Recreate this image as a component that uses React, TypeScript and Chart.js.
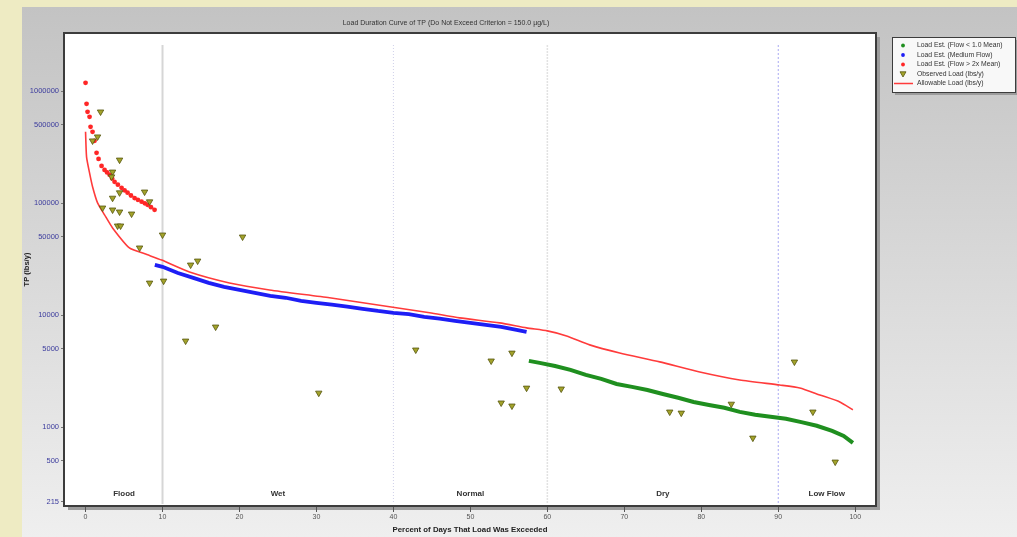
import React, { useEffect, useRef } from 'react';
import { Chart, registerables } from 'chart.js';

Chart.register(...registerables);

// ---------- text ----------
const CHART_TITLE = 'Load Duration Curve of TP (Do Not Exceed Criterion = 150.0 µg/L)';
const X_TITLE = 'Percent of Days That Load Was Exceeded';
const Y_TITLE = 'TP (lbs/y)';
const LEGEND_LABELS = [
  'Load Est. (Flow < 1.0 Mean)',
  'Load Est. (Medium Flow)',
  'Load Est. (Flow > 2x Mean)',
  'Observed Load (lbs/y)',
  'Allowable Load (lbs/y)',
];

// ---------- axes ----------
const X_TICKS = [0, 10, 20, 30, 40, 50, 60, 70, 80, 90, 100];
const Y_TICKS = [215, 500, 1000, 5000, 10000, 50000, 100000, 500000, 1000000];
const X_MIN = -2.8;
const X_MAX = 102.7;
const Y_MIN = 198;
const Y_MAX = 3300000;

// ---------- flow zones ----------
const ZONE_NAMES = ['Flood', 'Wet', 'Normal', 'Dry', 'Low Flow'];
const ZONE_NAME_AT = [5, 25, 50, 75, 96.3];
const ZONE_BREAKS = [10, 40, 60, 90];

// ---------- series ----------
const allowPct = [0, 0.13, 0.52, 0.91, 1.56, 2.47, 3.51, 5.7, 7.7, 9.9, 13.5, 18.7, 23.9, 31.7, 39.5, 44.7, 48.6, 53.8, 57.3, 60, 62.5, 65.5, 69.4, 74.6, 79.8, 85, 90.2, 92.8, 95.4, 98, 99.7];
const allowLoad = [433000, 259000, 186000, 140000, 100500, 78600, 60100, 39900, 35300, 31000, 24300, 19400, 16800, 14300, 11900, 10500, 9460, 8530, 7700, 7240, 6530, 5430, 4600, 3830, 3110, 2640, 2380, 2240, 1940, 1680, 1430];

const highPct = [0, 0.13, 0.26, 0.52, 0.65, 0.91, 1.17, 1.43, 1.69, 2.08, 2.47, 2.8, 3.12, 3.45, 3.77, 4.2, 4.68, 5.07, 5.46, 5.9, 6.37, 6.8, 7.28, 7.7, 8.06, 8.5, 8.97];
const highLoad = [1186000, 769000, 653000, 589000, 480000, 433000, 360000, 281000, 248000, 215000, 198000, 188000, 179000, 166000, 155000, 146000, 137000, 130000, 124000, 117000, 111000, 107000, 103000, 99500, 96500, 92000, 87100];

const medPct = [9, 10, 12, 14, 16, 18, 20, 22, 24, 26, 28, 30, 32, 34, 36, 38, 40, 42, 44, 46, 48, 50, 52, 54, 56, 57.3];
const medLoad = [28100, 27000, 23800, 21500, 19400, 17900, 16800, 15800, 14900, 14300, 13400, 12900, 12400, 11900, 11400, 10900, 10500, 10200, 9650, 9300, 8890, 8530, 8190, 7860, 7390, 7090];

const lowPct = [57.6, 59, 61, 63, 65, 67, 69, 71, 73, 75, 77, 79, 81, 83, 85, 87, 89, 91, 93, 95, 97, 98.5, 99.7];
const lowLoad = [3910, 3750, 3520, 3250, 2930, 2700, 2430, 2290, 2150, 1980, 1830, 1680, 1580, 1490, 1370, 1290, 1240, 1190, 1110, 1030, 926, 836, 724];

const obsPct = [1.95, 1.56, 0.91, 4.42, 3.51, 3.38, 4.42, 7.67, 8.32, 3.51, 2.21, 3.51, 4.42, 5.98, 4.16, 4.55, 7.02, 10.0, 20.4, 13.65, 14.56, 8.32, 10.14, 16.9, 13.0, 30.3, 42.9, 52.7, 55.4, 57.3, 54.0, 55.4, 61.8, 75.9, 77.4, 83.9, 86.7, 92.1, 94.5, 97.4];
const obsLoad = [653000, 391000, 360000, 243000, 190000, 172000, 124000, 126000, 103000, 111000, 90700, 87100, 83600, 80200, 62700, 62700, 39900, 52100, 50000, 28100, 30500, 19400, 20200, 7860, 5890, 2020, 4900, 3910, 4600, 2240, 1650, 1550, 2200, 1370, 1340, 1610, 802, 3830, 1370, 490];

// ---------- styles ----------
const FONT = 'Arial, "Liberation Sans", sans-serif';
const C_GREEN = '#1f8f1f';
const C_BLUE = '#1e1ef5';
const C_RED = '#ff2626';
const C_LINE = '#ff3b3b';
const C_OBS = '#a3a32a';
const C_OBS_EDGE = '#55550f';
const BREAK_STYLES = [
  { color: '#d6d6d6', width: 2, dash: [] as number[] },
  { color: '#cfd0ea', width: 1, dash: [1, 2] },
  { color: '#e2e2e2', width: 1.5, dash: [2, 1] },
  { color: '#a9a9f2', width: 1, dash: [2, 2] },
];

const xy = (xs: number[], ys: number[]) => xs.map((x, i) => ({ x, y: ys[i] }));

const decorPlugin = {
  id: 'decor',
  beforeDraw(chart: any) {
    const { ctx, width, height, chartArea: a } = chart;
    ctx.save();
    ctx.fillStyle = '#eeebc3';
    ctx.fillRect(0, 0, width, height);
    const g = ctx.createLinearGradient(0, 7, 0, height);
    g.addColorStop(0, '#c3c3c3');
    g.addColorStop(1, '#efefef');
    ctx.fillStyle = g;
    ctx.fillRect(22, 7, width - 22, height - 7);
    ctx.fillStyle = '#9c9c9c';
    ctx.fillRect(a.left + 4, a.top + 4, a.right - a.left, a.bottom - a.top);
    ctx.fillStyle = '#ffffff';
    ctx.fillRect(a.left, a.top, a.right - a.left, a.bottom - a.top);
    ctx.restore();
  },
  beforeDatasetsDraw(chart: any) {
    const { ctx, scales, chartArea: a } = chart;
    ctx.save();
    ZONE_BREAKS.forEach((b, i) => {
      const s = BREAK_STYLES[i];
      const x = scales.x.getPixelForValue(b);
      ctx.strokeStyle = s.color;
      ctx.lineWidth = s.width;
      ctx.setLineDash(s.dash);
      ctx.beginPath();
      ctx.moveTo(x, a.top + 12);
      ctx.lineTo(x, a.bottom - 2);
      ctx.stroke();
    });
    ctx.setLineDash([]);
    ctx.fillStyle = '#333';
    ctx.font = `bold 8px ${FONT}`;
    ctx.textAlign = 'center';
    ctx.textBaseline = 'middle';
    ZONE_NAMES.forEach((n, i) => {
      ctx.fillText(n, scales.x.getPixelForValue(ZONE_NAME_AT[i]), a.bottom - 12);
    });
    ctx.restore();
  },
  afterDraw(chart: any) {
    const { ctx, chartArea: a } = chart;
    ctx.save();
    ctx.strokeStyle = '#3c3c3c';
    ctx.lineWidth = 2;
    ctx.strokeRect(a.left, a.top, a.right - a.left, a.bottom - a.top);
    ctx.fillStyle = '#333';
    ctx.font = `7px ${FONT}`;
    ctx.textAlign = 'center';
    ctx.textBaseline = 'middle';
    ctx.fillText(CHART_TITLE, 446, 23);
    const lx = 892, ly = 37, lw = 123, lh = 55;
    ctx.fillStyle = '#9c9c9c';
    ctx.fillRect(lx + 3, ly + 3, lw, lh);
    ctx.fillStyle = '#f8f8f8';
    ctx.fillRect(lx, ly, lw, lh);
    ctx.strokeStyle = '#3c3c3c';
    ctx.lineWidth = 1;
    ctx.strokeRect(lx + 0.5, ly + 0.5, lw, lh);
    const rows = [45.5, 55, 64.5, 74, 83.5];
    const sx = 903;
    ctx.textAlign = 'left';
    ctx.font = `6.8px ${FONT}`;
    LEGEND_LABELS.forEach((t, i) => {
      const y = rows[i];
      if (i < 3) {
        ctx.fillStyle = [C_GREEN, C_BLUE, C_RED][i];
        ctx.beginPath();
        ctx.arc(sx, y, 1.9, 0, Math.PI * 2);
        ctx.fill();
      } else if (i === 3) {
        ctx.fillStyle = C_OBS;
        ctx.strokeStyle = C_OBS_EDGE;
        ctx.lineWidth = 0.8;
        ctx.beginPath();
        ctx.moveTo(sx - 3, y - 2.2);
        ctx.lineTo(sx + 3, y - 2.2);
        ctx.lineTo(sx, y + 3);
        ctx.closePath();
        ctx.fill();
        ctx.stroke();
      } else {
        ctx.strokeStyle = C_LINE;
        ctx.lineWidth = 1.5;
        ctx.beginPath();
        ctx.moveTo(894, y);
        ctx.lineTo(913, y);
        ctx.stroke();
      }
      ctx.fillStyle = '#333';
      ctx.fillText(t, 917, y);
    });
    ctx.restore();
  },
};

export default function App() {
  const ref = useRef<HTMLCanvasElement | null>(null);

  useEffect(() => {
    if (!ref.current) return;
    const chart = new Chart(ref.current, {
      type: 'scatter',
      data: {
        datasets: [
          {
            label: LEGEND_LABELS[3],
            data: xy(obsPct, obsLoad),
            pointStyle: 'triangle',
            rotation: 180,
            pointRadius: 3.7,
            backgroundColor: C_OBS,
            borderColor: C_OBS_EDGE,
            borderWidth: 0.8,
            order: 0,
          },
          {
            label: LEGEND_LABELS[4],
            data: xy(allowPct, allowLoad),
            showLine: true,
            borderColor: C_LINE,
            borderWidth: 1.6,
            pointRadius: 0,
            tension: 0.2,
            order: 1,
          },
          {
            label: LEGEND_LABELS[2],
            data: xy(highPct, highLoad),
            pointRadius: 2.4,
            backgroundColor: C_RED,
            borderWidth: 0,
            order: 2,
          },
          {
            label: LEGEND_LABELS[1],
            data: xy(medPct, medLoad),
            showLine: true,
            borderColor: C_BLUE,
            borderWidth: 3.8,
            pointRadius: 0,
            order: 2,
          },
          {
            label: LEGEND_LABELS[0],
            data: xy(lowPct, lowLoad),
            showLine: true,
            borderColor: C_GREEN,
            borderWidth: 4,
            pointRadius: 0,
            order: 2,
          },
        ],
      },
      options: {
        responsive: false,
        maintainAspectRatio: false,
        animation: false,
        layout: { padding: { top: 33, right: 141, left: 0, bottom: 0 } },
        plugins: { legend: { display: false }, tooltip: { enabled: false }, title: { display: false } },
        scales: {
          x: {
            type: 'linear',
            min: X_MIN,
            max: X_MAX,
            afterBuildTicks: (s: any) => {
              s.ticks = X_TICKS.map((v) => ({ value: v }));
            },
            afterFit: (s: any) => {
              s.height = 31;
            },
            grid: { drawOnChartArea: false, drawTicks: true, tickLength: 6, color: '#555' },
            border: { display: false },
            ticks: {
              autoSkip: false,
              maxRotation: 0,
              padding: 1,
              color: '#555',
              font: { family: FONT, size: 7 },
              callback: (v: any) => String(v),
            },
            title: {
              display: true,
              text: X_TITLE,
              color: '#222',
              font: { family: FONT, size: 7.8, weight: 'bold' },
              padding: { top: 0, bottom: 2 },
            },
          },
          y: {
            type: 'logarithmic',
            min: Y_MIN,
            max: Y_MAX,
            afterBuildTicks: (s: any) => {
              s.ticks = Y_TICKS.map((v) => ({ value: v }));
            },
            afterFit: (s: any) => {
              s.width = 64;
            },
            grid: { drawOnChartArea: false, drawTicks: true, tickLength: 3, color: '#777' },
            border: { display: false },
            ticks: {
              autoSkip: false,
              padding: 2,
              color: '#3b3b9d',
              font: { family: FONT, size: 7.5 },
              callback: (v: any) => String(v),
            },
            title: {
              display: true,
              text: Y_TITLE,
              color: '#222',
              font: { family: FONT, size: 7.5, weight: 'bold' },
              padding: { top: 22, bottom: 0 },
            },
          },
        },
      } as any,
      plugins: [decorPlugin],
    });
    return () => chart.destroy();
  }, []);

  return (
    <div style={{ position: 'absolute', left: 0, top: 0, width: 1017, height: 537 }}>
      <canvas ref={ref} width={1017} height={537} style={{ display: 'block' }} />
    </div>
  );
}
